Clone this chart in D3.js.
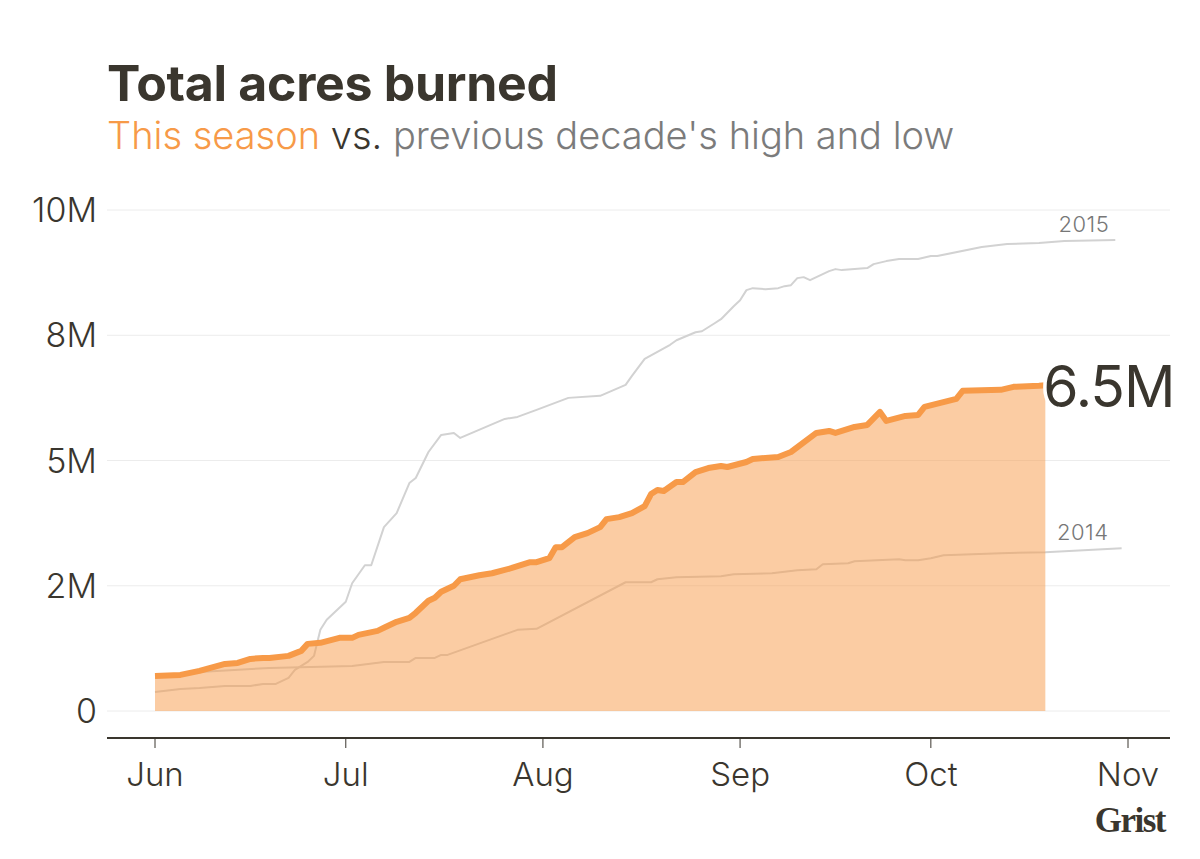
<!DOCTYPE html>
<html>
<head>
<meta charset="utf-8">
<script src="https://cdn.jsdelivr.net/npm/d3@7"></script>
<style>
  html, body { margin: 0; padding: 0; background: #fff; }
  svg { display: block; font-family: Inter, "Open Sans", sans-serif; }
</style>
</head>
<body>
<svg id="chart" width="1200" height="859"></svg>
<script>
// ---------- DATA ----------
const seasonDates = ["06-01","06-05","06-08","06-12","06-14","06-16","06-18","06-19","06-22","06-24","06-25","06-27","06-30",
  "07-02","07-03","07-06","07-07","07-09","07-11","07-12","07-14","07-15","07-16","07-18","07-19","07-22","07-24","07-27","07-30","07-31",
  "08-02","08-03","08-04","08-06","08-08","08-10","08-11","08-13","08-15","08-17","08-18","08-19","08-20","08-22","08-23","08-25","08-27","08-29","08-30",
  "09-02","09-03","09-07","09-09","09-13","09-15","09-16","09-19","09-21","09-23","09-24","09-27","09-29","09-30",
  "10-05","10-06","10-12","10-14","10-18","10-19"];
const seasonValues = [0.70,0.72,0.80,0.94,0.96,1.04,1.06,1.06,1.10,1.20,1.34,1.36,1.46,
  1.46,1.52,1.60,1.66,1.78,1.86,1.96,2.20,2.26,2.38,2.50,2.63,2.71,2.75,2.85,2.97,2.97,
  3.05,3.27,3.27,3.47,3.55,3.67,3.83,3.87,3.95,4.09,4.33,4.41,4.39,4.57,4.57,4.77,4.85,4.89,4.87,
  4.97,5.03,5.07,5.17,5.55,5.59,5.55,5.67,5.71,5.97,5.79,5.89,5.91,6.07,
  6.23,6.39,6.41,6.47,6.49,6.50];

const highYear = "2015";
const highDates = ["06-01","06-05","06-08","06-12","06-16","06-18","06-20","06-22","06-23","06-25","06-26","06-27","06-28",
  "07-01","07-02","07-04","07-05","07-07","07-09","07-11","07-12","07-14","07-16","07-18","07-19","07-26","07-28","07-31",
  "08-05","08-10","08-14","08-15","08-17","08-19","08-21","08-22","08-25","08-26","08-28","08-29","08-31",
  "09-01","09-02","09-03","09-05","09-07","09-08","09-09","09-10","09-11","09-12","09-15","09-16","09-17","09-19","09-21","09-22","09-24","09-26","09-29",
  "10-01","10-02","10-09","10-13","10-18","10-22","10-30"];
const highValues = [0.38,0.44,0.46,0.50,0.50,0.54,0.54,0.66,0.82,0.98,1.10,1.62,1.82,
  2.18,2.55,2.91,2.91,3.67,3.95,4.55,4.65,5.17,5.51,5.55,5.45,5.83,5.87,6.01,
  6.25,6.29,6.51,6.69,7.03,7.17,7.31,7.40,7.56,7.58,7.74,7.82,8.08,
  8.20,8.40,8.44,8.42,8.44,8.48,8.50,8.64,8.66,8.60,8.78,8.82,8.80,8.82,8.84,8.92,8.98,9.02,9.02,
  9.08,9.08,9.26,9.32,9.34,9.38,9.40];

const lowYear = "2014";
const lowDates = ["06-01","06-08","06-19","07-02","07-07","07-11","07-12","07-15","07-16","07-17","07-28","07-31",
  "08-14","08-18","08-19","08-22","08-29","08-31",
  "09-06","09-10","09-13","09-14","09-18","09-19","09-26","09-27","09-29",
  "10-01","10-03","10-12","10-19","10-31"];
const lowValues = [0.70,0.78,0.86,0.90,0.98,0.98,1.06,1.06,1.12,1.12,1.62,1.64,
  2.57,2.57,2.63,2.67,2.69,2.73,
  2.75,2.81,2.83,2.93,2.95,2.99,3.03,3.01,3.01,
  3.05,3.11,3.15,3.17,3.25];

const yTickValues = [0, 2.5, 5, 7.5, 10];          // millions of acres
const yTickLabels = ["0", "2M", "5M", "8M", "10M"];
const xTickDates = ["06-01","07-01","08-01","09-01","10-01","11-01"];
const xTickLabels = ["Jun","Jul","Aug","Sep","Oct","Nov"];
const endLabel = "6.5M";

// ---------- SETUP ----------
const YEAR = "2021-";
const parse = d3.utcParse("%Y-%m-%d");
const toPts = (dates, vals) => dates.map((d, i) => ({ date: parse(YEAR + d), value: vals[i] * 1e6 }));
const season = toPts(seasonDates, seasonValues);
const high = toPts(highDates, highValues);
const low = toPts(lowDates, lowValues);

const svg = d3.select("#chart");
const dark = "#3a362e";
const orange = "#f79a48";

const x = d3.scaleUtc()
  .domain([parse(YEAR + "06-01"), parse(YEAR + "11-01")])
  .range([155, 1128]);
const y = d3.scaleLinear().domain([0, 10e6]).range([711, 210]);

const plotLeft = 107, plotRight = 1170;

// Title
svg.append("text").attr("x", 107).attr("y", 101)
  .attr("font-size", 50).attr("font-weight", 700).attr("fill", dark)
  .attr("letter-spacing", "-0.3")
  .text("Total acres burned");

const sub = svg.append("text").attr("x", 107).attr("y", 149)
  .attr("font-size", 38).attr("font-weight", 300);
sub.append("tspan").attr("fill", orange).text("This season");
sub.append("tspan").attr("fill", dark).text(" vs. ");
sub.append("tspan").attr("fill", "#7b7b7b").text("previous decade's high and low");

// Gridlines
svg.append("g").selectAll("line").data(yTickValues).join("line")
  .attr("x1", plotLeft).attr("x2", plotRight)
  .attr("y1", d => y(d * 1e6)).attr("y2", d => y(d * 1e6))
  .attr("stroke", "#ececec").attr("stroke-width", 1);

// Y labels
svg.append("g").selectAll("text").data(yTickValues).join("text")
  .attr("x", 97).attr("y", d => y(d * 1e6)).attr("dy", "0.36em")
  .attr("text-anchor", "end").attr("font-size", 34).attr("font-weight", 300)
  .attr("fill", dark)
  .text((d, i) => yTickLabels[i]);

// Grey reference lines
const line = d3.line().x(d => x(d.date)).y(d => y(d.value));
svg.append("path").datum(high).attr("d", line)
  .attr("fill", "none").attr("stroke", "#d2d2d2").attr("stroke-width", 2).attr("stroke-linejoin", "round");
svg.append("path").datum(low).attr("d", line)
  .attr("fill", "none").attr("stroke", "#d2d2d2").attr("stroke-width", 2).attr("stroke-linejoin", "round");

// Grey labels
const lastHigh = high[high.length - 1], lastLow = low[low.length - 1];
svg.append("text").attr("x", x(lastHigh.date) - 6).attr("y", y(lastHigh.value) - 8)
  .attr("text-anchor", "end").attr("font-size", 22).attr("font-weight", 300).attr("fill", "#777")
  .attr("letter-spacing", "0.5")
  .text(highYear);
svg.append("text").attr("x", x(lastLow.date) - 13).attr("y", y(lastLow.value) - 8)
  .attr("text-anchor", "end").attr("font-size", 22).attr("font-weight", 300).attr("fill", "#777")
  .attr("letter-spacing", "0.5")
  .text(lowYear);

// Season area + line
const area = d3.area().x(d => x(d.date)).y0(y(0)).y1(d => y(d.value));
svg.append("path").datum(season).attr("d", area)
  .attr("fill", orange).attr("fill-opacity", 0.5);
svg.append("path").datum(season).attr("d", line)
  .attr("fill", "none").attr("stroke", orange).attr("stroke-width", 6)
  .attr("stroke-linejoin", "round");

// End label
const lastS = season[season.length - 1];
svg.append("text").attr("x", x(lastS.date) - 2).attr("y", y(lastS.value) + 22)
  .attr("font-size", 57).attr("font-weight", 400).attr("fill", dark)
  .attr("stroke", "#fff").attr("stroke-width", 7).attr("paint-order", "stroke")
  .attr("letter-spacing", "-1")
  .text(endLabel);

// X axis
svg.append("line").attr("x1", plotLeft).attr("x2", plotRight).attr("y1", 738).attr("y2", 738)
  .attr("stroke", dark).attr("stroke-width", 2);
const xt = svg.append("g").selectAll("g").data(xTickDates).join("g")
  .attr("transform", d => `translate(${x(parse(YEAR + d))},0)`);
xt.append("line").attr("y1", 738).attr("y2", 748).attr("stroke", dark).attr("stroke-width", 1);
xt.append("text").attr("y", 786).attr("text-anchor", "middle")
  .attr("font-size", 33).attr("font-weight", 300).attr("fill", dark)
  .text((d, i) => xTickLabels[i]);

// Logo
svg.append("text").attr("x", 1165).attr("y", 832).attr("text-anchor", "end")
  .attr("font-family", "'Liberation Serif', 'DejaVu Serif', serif")
  .attr("font-size", 35).attr("font-weight", 700).attr("fill", dark)
  .attr("letter-spacing", "-1.5")
  .text("Grist");
</script>
</body>
</html>
